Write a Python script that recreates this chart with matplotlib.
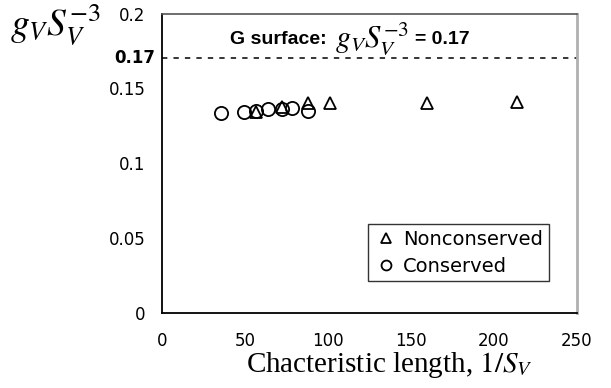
import matplotlib
matplotlib.use("Agg")
import matplotlib.pyplot as plt
from matplotlib.transforms import blended_transform_factory, offset_copy

plt.rcParams['mathtext.fontset'] = 'stix'
plt.rcParams['font.family'] = ['DejaVu Sans']

# data
cons_x = [35.5, 49.4, 56.6, 63.9, 72.3, 78.3, 87.9]
cons_y = [0.1334, 0.1345, 0.1349, 0.1363, 0.1363, 0.1367, 0.1349]
noncons_x = [56.6, 72.3, 87.9, 101.2, 159.5, 213.7]
noncons_y = [0.1345, 0.1378, 0.1401, 0.1401, 0.1401, 0.1411]
g_surface = 0.17
xticks = [0, 50, 100, 150, 200, 250]
yticks = [0, 0.05, 0.1, 0.15, 0.2]
ytick_labels = ['0', '0.05', '0.1', '0.15', '0.2']

fig = plt.figure(figsize=(6.11, 3.88), dpi=100)
ax = fig.add_axes([0.2651, 0.1933, 0.6793, 0.7719])

ax.plot(noncons_x, noncons_y, linestyle='none', marker='^', markersize=9,
        markerfacecolor='none', markeredgecolor='black', markeredgewidth=1.3,
        label='Nonconserved')
ax.plot(cons_x, cons_y, linestyle='none', marker='o', markersize=9.5,
        markerfacecolor='none', markeredgecolor='black', markeredgewidth=1.3,
        label='Conserved')

ax.axhline(g_surface, color='black', linestyle=(0, (3.5, 4)), linewidth=1.1)

ax.set_xlim(0, 250)
ax.set_ylim(0, 0.2)

ax.set_xticks(xticks)
ax.set_xticklabels([str(t) for t in xticks])
ax.set_yticks(yticks)
ax.set_yticklabels(ytick_labels)
ax.tick_params(axis='both', which='major', length=0, labelsize=12)
ax.tick_params(axis='x', which='major', pad=14)
ax.tick_params(axis='y', which='major', pad=12)
ax.set_xticks([100, 250], minor=True)
ax.set_yticks([0, 0.2], minor=True)
ax.tick_params(axis='x', which='minor', length=5, width=1.2, color='#555555', direction='out')
ax.tick_params(axis='y', which='minor', length=5, width=1.2, color='#777777', direction='out')

ax.spines['left'].set_color('black')
ax.spines['left'].set_linewidth(1.3)
ax.spines['bottom'].set_color('black')
ax.spines['bottom'].set_linewidth(1.3)
ax.spines['top'].set_color('#555555')
ax.spines['top'].set_linewidth(1.2)
ax.spines['right'].set_color('#b0b0b0')
ax.spines['right'].set_linewidth(2)

trans = blended_transform_factory(ax.transAxes, ax.transData)
ax.text(-0.016, g_surface, '0.17', transform=trans, ha='right', va='center',
        fontsize=12, fontweight='bold')

# annotation for the G surface line, pieces placed one after another
renderer = fig.canvas.get_renderer()
t1 = ax.text(0.164, 0.1825, 'G surface:', transform=trans, fontsize=14,
             fontweight='bold', family='Liberation Sans', ha='left', va='center')
w1 = t1.get_window_extent(renderer).width
t2 = ax.text(0.164, 0.1835, r'$g_V S_V^{-3}$', fontsize=22, ha='left', va='center',
             transform=offset_copy(trans, fig=fig, x=w1 + 8, units='dots'))
w2 = t2.get_window_extent(renderer).width
ax.text(0.164, 0.1825, '= 0.17', fontsize=14, fontweight='bold',
        family='Liberation Sans', ha='left', va='center',
        transform=offset_copy(trans, fig=fig, x=w1 + w2 + 14, units='dots'))

fig.text(0.016, 0.935, r'$g_V S_V^{-3}$', fontsize=27, ha='left', va='center')

ax.set_xlabel(r'Chacteristic length, $1/S_V$', fontsize=21,
              family='Liberation Serif', labelpad=0)
ax.xaxis.label.set_x(0.549)

leg = ax.legend(loc='upper left', bbox_to_anchor=(0.496, 0.297), frameon=True,
                fancybox=False, edgecolor='black', fontsize=14,
                handlelength=1.3, handletextpad=0.2, borderpad=0.3,
                labelspacing=0.4, markerscale=0.75, borderaxespad=0)
leg.get_frame().set_linewidth(1.0)

fig.savefig('out.png', dpi=100)
